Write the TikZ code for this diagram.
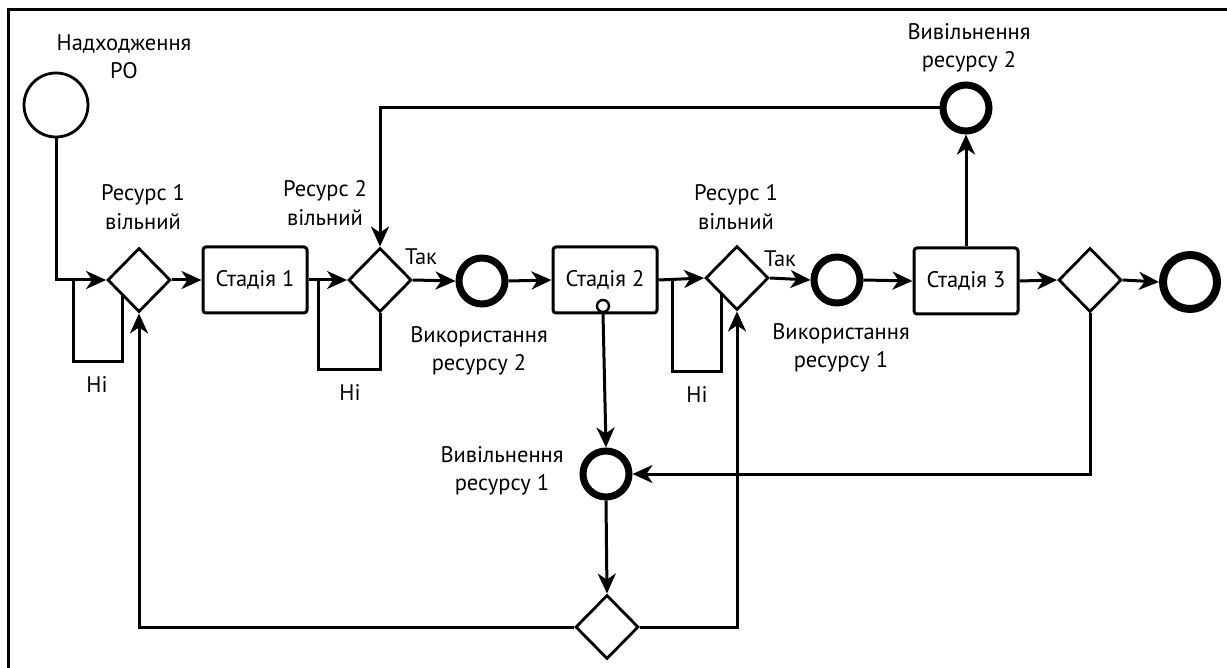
\documentclass[tikz,border=0pt]{standalone}
\usepackage{fontspec}
\setmainfont{PT Sans}
\usetikzlibrary{shapes.geometric,arrows.meta}
\begin{document}
\begin{tikzpicture}[x=1pt,y=-1pt,
  conn/.style={line width=3pt},
  arr/.style={conn,-{Stealth[length=20pt,width=18pt,inset=6pt]}},
  gate/.style={draw,diamond,line width=2.8pt,minimum width=63pt,minimum height=64pt,inner sep=0pt,fill=white},
  stagebox/.style={draw,rectangle,rounded corners=3pt,line width=3pt,minimum width=104pt,minimum height=66pt,inner sep=0pt,font=\fontsize{22.5}{26}\selectfont},
  evt/.style={draw,circle,line width=7pt,minimum size=46pt,inner sep=0pt},
  lbl/.style={align=center,font=\fontsize{22.5}{28.5}\selectfont,inner sep=1pt}
]
\useasboundingbox (0,0) rectangle (1227,668);
\draw[line width=3pt] (8,668) -- (8,10) -- (1227,10);

% nodes
\node[draw,circle,line width=2.8pt,minimum size=64pt,inner sep=0pt] (start) at (56,105) {};
\node[gate] (d1) at (139,280) {};
\node[stagebox] (s1) at (255,280) {Стадія 1};
\node[gate] (d2) at (380,280) {};
\node[evt] (u2) at (482,281) {};
\node[stagebox] (s2) at (605,280) {Стадія 2};
\node[draw,circle,line width=2.4pt,minimum size=12pt,inner sep=0pt,fill=white] (sc) at (603,306) {};
\node[gate] (d3) at (737,278) {};
\node[evt] (u1) at (837,280) {};
\node[stagebox] (s3) at (966,281) {Стадія 3};
\node[evt] (r2) at (966,108) {};
\node[gate] (d4) at (1090,280) {};
\node[evt,line width=8pt,minimum size=54pt] (fin) at (1190,282) {};
\node[evt] (r1) at (606,474) {};
\node[gate] (d5) at (607,627) {};

% labels
\node[lbl] (t0) at (124,57) {Надходження\\РО};
\node[lbl] (t1) at (143,207) {Ресурс 1\\вільний};
\node[lbl] (t2) at (325,203) {Ресурс 2\\вільний};
\node[lbl] (t3) at (736,207) {Ресурс 1\\вільний};
\node[lbl] (n1) at (97,385) {Ні};
\node[lbl] (n2) at (350,393) {Ні};
\node[lbl] (n3) at (697,395) {Ні};
\node[lbl] (y1) at (421,257) {Так};
\node[lbl] (y2) at (780,259) {Так};
\node[lbl] (t4) at (479,351) {Використання\\ресурсу 2};
\node[lbl] (t5) at (841,348) {Використання\\ресурсу 1};
\node[lbl] (t6) at (969,48) {Вивільнення\\ресурсу 2};
\node[lbl] (t7) at (502,471) {Вивільнення\\ресурсу 1};

% loop coordinates
\coordinate (a1) at (73,280);
\coordinate (a2) at (73,362);
\coordinate (a3) at (122,362);
\coordinate (a4) at (122,294);
\coordinate (b1) at (318,280);
\coordinate (b2) at (318,370);
\coordinate (b3) at (380,370);
\coordinate (c1) at (672,278);
\coordinate (c2) at (672,372);
\coordinate (c3) at (721,372);
\coordinate (c4) at (721,293);

% connectors
\draw[arr] (start.south) |- (d1.west);
\draw[conn] (a1) -- (a2) -- (a3) -- (a4);
\draw[arr] (d1.east) -- (s1.west);
\draw[arr] (s1.east) -- (d2.west);
\draw[conn] (b1) -- (b2) -- (b3) -- (d2.south);
\draw[arr] (r2.west) -| (d2.north);
\draw[arr] (d2.east) -- (u2.west);
\draw[arr] (u2.east) -- (s2.west);
\draw[arr] (s2.east) -- (d3.west);
\draw[conn] (c1) -- (c2) -- (c3) -- (c4);
\draw[arr] (d3.east) -- (u1.west);
\draw[arr] (u1.east) -- (s3.west);
\draw[arr] (s3.north) -- (r2.south);
\draw[arr] (s3.east) -- (d4.west);
\draw[arr] (d4.east) -- (fin.west);
\draw[arr] (d4.south) |- (r1.east);
\draw[arr] (sc.south) -- (r1.north);
\draw[arr] (r1.south) -- (d5.north);
\draw[arr] (d5.west) -| (d1.south);
\draw[arr] (d5.east) -| (d3.south);
\end{tikzpicture}
\end{document}
